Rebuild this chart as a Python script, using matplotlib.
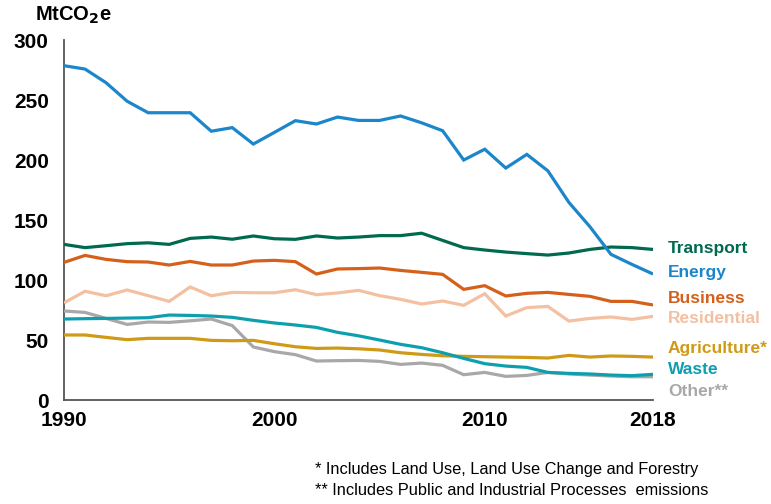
import matplotlib
matplotlib.use("Agg")
import matplotlib.pyplot as plt

years = list(range(1990, 2019))

transport = [129.7, 127.0, 128.6, 130.3, 131.0, 129.7, 134.7, 135.8, 134.0, 136.7,
             134.4, 133.9, 136.7, 135.0, 135.8, 137.0, 137.0, 139.0, 133.0, 127.0,
             125.0, 123.3, 122.0, 120.8, 122.5, 125.5, 127.5, 127.0, 125.5]
energy = [278.6, 275.8, 264.4, 249.0, 239.4, 239.4, 239.4, 224.0, 227.0, 213.3,
          223.0, 232.8, 230.0, 235.8, 233.0, 233.0, 236.7, 231.0, 224.4, 200.0,
          209.0, 193.3, 204.7, 191.0, 164.7, 144.4, 121.4, 113.0, 105.0]
business = [114.7, 120.5, 117.2, 115.3, 115.0, 112.5, 115.5, 112.5, 112.5, 115.8,
            116.4, 115.3, 105.0, 109.2, 109.5, 110.0, 108.0, 106.4, 104.7, 92.2,
            95.3, 86.7, 88.9, 89.7, 88.0, 86.4, 82.2, 82.2, 79.2]
residential = [81.0, 90.6, 86.9, 91.7, 87.0, 82.2, 94.2, 86.9, 89.7, 89.4,
               89.4, 91.9, 87.8, 89.2, 91.4, 87.0, 83.9, 80.0, 82.5, 78.9,
               88.6, 70.0, 77.0, 78.0, 65.8, 68.0, 69.2, 67.2, 69.7]
agriculture = [54.2, 54.2, 52.2, 50.3, 51.4, 51.4, 51.4, 49.7, 49.4, 49.7,
               46.9, 44.4, 43.0, 43.3, 42.7, 41.7, 39.4, 38.0, 36.9, 36.4,
               36.1, 35.8, 35.5, 35.0, 37.2, 35.8, 36.7, 36.4, 35.8]
waste = [67.5, 67.8, 68.0, 68.3, 68.6, 70.8, 70.5, 70.0, 68.9, 66.4,
         64.2, 62.5, 60.5, 56.4, 53.5, 50.0, 46.4, 43.6, 39.4, 34.7,
         30.3, 28.3, 27.2, 23.0, 22.2, 21.7, 20.8, 20.3, 21.4]
other = [74.2, 73.0, 68.0, 63.0, 65.0, 64.7, 66.0, 67.5, 62.0, 44.2,
         40.3, 37.8, 32.5, 32.8, 33.0, 32.2, 29.7, 30.8, 28.9, 21.1,
         23.0, 19.7, 20.5, 23.0, 21.7, 20.8, 20.0, 19.4, 19.4]

series = [
    ("Transport", transport, "#006A4E"),
    ("Energy", energy, "#1C86CB"),
    ("Business", business, "#D5601B"),
    ("Residential", residential, "#F3C0A2"),
    ("Agriculture*", agriculture, "#CF9A17"),
    ("Waste", waste, "#0E9FAF"),
    ("Other**", other, "#A8A8A8"),
]
label_values = [126, 106.5, 85, 68, 43, 25.5, 7.5]

x_ticks = [1990, 2000, 2010, 2018]
y_ticks = [0, 50, 100, 150, 200, 250, 300]

plt.rcParams['font.family'] = ['Liberation Sans', 'DejaVu Sans']

fig = plt.figure(figsize=(7.71, 5.04), dpi=100)
ax = fig.add_axes([0.083, 0.2063, 0.764, 0.7143])

draw_order = ["Other**", "Agriculture*", "Waste", "Residential", "Business", "Transport", "Energy"]
lookup = {n: (v, c) for n, v, c in series}
for name in draw_order:
    vals, col = lookup[name]
    ax.plot(years, vals, color=col, lw=2.3, solid_capstyle='butt', solid_joinstyle='miter', zorder=3)

for (name, vals, col), ly in zip(series, label_values):
    ax.text(2018.7, ly, name, color=col, fontsize=12.5, fontweight='bold',
            va='center', ha='left', clip_on=False)

ax.set_xlim(1990, 2018)
ax.set_ylim(0, 300)
ax.set_xticks(x_ticks)
ax.set_yticks(y_ticks)
ax.tick_params(length=0)
ax.tick_params(axis='y', pad=11, labelsize=15)
ax.tick_params(axis='x', pad=8, labelsize=15)
for lab in ax.get_xticklabels() + ax.get_yticklabels():
    lab.set_fontweight('bold')
for s in ['top', 'right']:
    ax.spines[s].set_visible(False)
for s in ['left', 'bottom']:
    ax.spines[s].set_color('#555555')
    ax.spines[s].set_linewidth(1.3)

fig.text(0.045, 0.99, r"MtCO$_\mathbf{2}$e", fontsize=14.5, fontweight='bold', va='top', ha='left')

fig.text(0.408, 0.068, "* Includes Land Use, Land Use Change and Forestry", fontsize=11.8, va='center')
fig.text(0.408, 0.027, "** Includes Public and Industrial Processes  emissions", fontsize=11.8, va='center')

fig.savefig("out.png", dpi=100)
